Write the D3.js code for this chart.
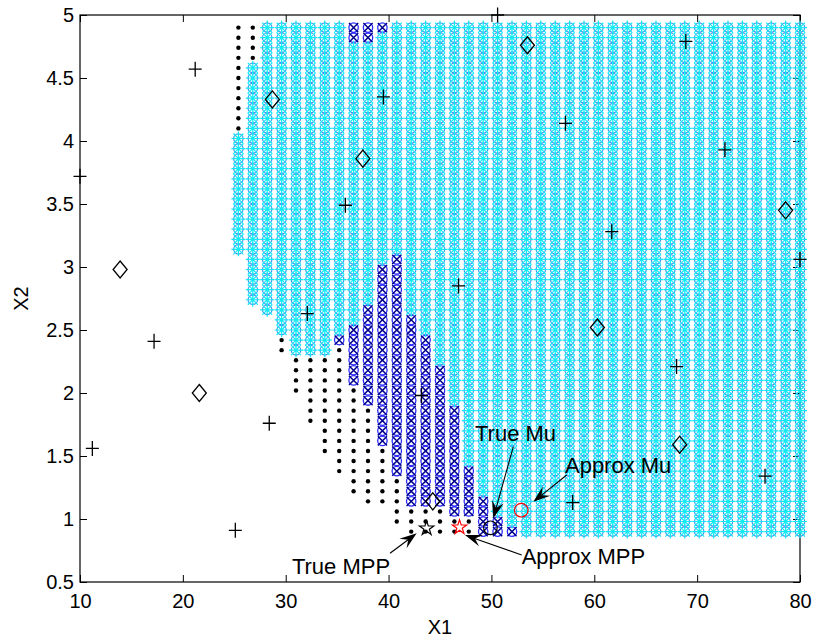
<!DOCTYPE html>
<html>
<head>
<meta charset="utf-8">
<script src="https://cdn.jsdelivr.net/npm/d3@7"></script>
<style>
  body { margin: 0; background: #fff; }
  svg { display: block; }
  text { font-family: "Liberation Sans", Arial, sans-serif; fill: #000; }
</style>
</head>
<body>
<svg id="chart" width="814" height="641"></svg>
<script>
// Sampling grid (X1 columns, X2 rows)
const gridX1 = [25.4, 26.8, 28.2, 29.6, 31.0, 32.4, 33.8, 35.2, 36.6, 38.0,
                39.4, 40.8, 42.2, 43.6, 45.0, 46.4, 47.8, 49.2, 50.6, 52.0,
                53.4, 54.8, 56.2, 57.6, 59.0, 60.4, 61.8, 63.2, 64.6, 66.0,
                67.4, 68.8, 70.2, 71.6, 73.0, 74.4, 75.8, 77.2, 78.6, 80.0];
const gridX2 = [0.90, 0.98, 1.06, 1.14, 1.22, 1.30, 1.38, 1.46, 1.54, 1.62,
                1.70, 1.78, 1.86, 1.94, 2.02, 2.10, 2.18, 2.26, 2.34, 2.42,
                2.50, 2.58, 2.66, 2.74, 2.82, 2.90, 2.98, 3.06, 3.14, 3.22,
                3.30, 3.38, 3.46, 3.54, 3.62, 3.70, 3.78, 3.86, 3.94, 4.02,
                4.10, 4.18, 4.26, 4.34, 4.42, 4.50, 4.58, 4.66, 4.74, 4.82, 4.90];

// Per-column class boundaries (X2 values), one entry per gridX1 column
// lowest grid row that carries any marker
const lowestX2 = [3.14, 2.74, 2.66, 2.34, 2.02, 1.78, 1.54, 1.38, 1.22, 1.14,
                  1.14, 0.98, 0.90, 0.90, 0.90, 0.90, 0.90, 0.90, 0.90, 0.90,
                  0.90, 0.90, 0.90, 0.90, 0.90, 0.90, 0.90, 0.90, 0.90, 0.90,
                  0.90, 0.90, 0.90, 0.90, 0.90, 0.90, 0.90, 0.90, 0.90, 0.90];
// top of the lower band of black dots
const dotTopX2 = [null, null, null, 2.42, 2.26, 2.26, 2.26, 2.34, 2.02, 1.86,
                  1.54, 1.30, 1.06, 1.06, 1.06, 0.98, 0.98, null, null, null,
                  null, null, null, null, null, null, null, null, null, null,
                  null, null, null, null, null, null, null, null, null, null];
// top of the dark-blue cross band
const crossTopX2 = [null, null, null, null, null, null, null, 2.42, 2.50, 2.66,
                    2.98, 3.06, 2.58, 2.42, 2.18, 1.86, 1.38, 1.14, 0.98, 0.90,
                    null, null, null, null, null, null, null, null, null, null,
                    null, null, null, null, null, null, null, null, null, null];
// upper dots / upper crosses: start X2 of the band reaching the top row
const upperDotFromX2 = [4.10, 4.66, null, null, null, null, null, null, null, null,
                        null, null, null, null, null, null, null, null, null, null,
                        null, null, null, null, null, null, null, null, null, null,
                        null, null, null, null, null, null, null, null, null, null];
const upperCrossFromX2 = [null, null, null, null, null, null, null, null, 4.82, 4.82,
                          4.90, null, null, null, null, null, null, null, null, null,
                          null, null, null, null, null, null, null, null, null, null,
                          null, null, null, null, null, null, null, null, null, null];

// Sample points
const plusX1 = [50.6, 21.2, 39.5, 57.2, 68.9, 72.7, 35.8, 10.0, 61.7, 80.0,
                32.1, 46.8, 17.2, 43.2, 28.4, 68.0, 11.2, 25.1, 57.9, 76.6];
const plusX2 = [5.00, 4.57, 4.35, 4.14, 4.79, 3.93, 3.49, 3.72, 3.28, 3.06,
                2.63, 2.85, 2.41, 1.98, 1.76, 2.21, 1.56, 0.91, 1.13, 1.34];
const diamondX1 = [53.5, 28.7, 37.5, 13.9, 78.6, 60.3, 21.6, 68.3, 44.3];
const diamondX2 = [4.76, 4.33, 3.86, 2.98, 3.45, 2.52, 2.00, 1.59, 1.14];

// Design points
const trueMPP = [43.7, 0.926];
const approxMPP = [46.9, 0.934];
const trueMu = [49.9, 0.93];
const approxMu = [52.9, 1.07];

// Annotations: label, text anchor (X1, X2), arrow tail and head (X1, X2)
const noteLabels = ["True Mu", "Approx Mu", "True MPP", "Approx MPP"];
const noteTextAt = [[48.4, 1.619], [57.15, 1.365], [30.6, 0.56], [52.94, 0.639]];
const noteTail = [[52.13, 1.574], [57.32, 1.349], [40.14, 0.728], [52.94, 0.714]];
const noteHead = [[50.18, 1.006], [54.07, 1.137], [42.73, 0.886], [47.43, 0.873]];

const xTicks = [10, 20, 30, 40, 50, 60, 70, 80];
const yTicks = [0.5, 1, 1.5, 2, 2.5, 3, 3.5, 4, 4.5, 5];

const svg = d3.select("#chart");
const x = d3.scaleLinear().domain([10, 80]).range([80, 800]);
const y = d3.scaleLinear().domain([0.5, 5]).range([582, 15]);

// ---- axes (drawn beneath the data, ticks on all four sides) ----
const axes = svg.append("g");
axes.append("rect").attr("x", x(10)).attr("y", y(5))
  .attr("width", x(80) - x(10)).attr("height", y(0.5) - y(5))
  .attr("fill", "none").attr("stroke", "#000").attr("stroke-width", 1.2);

function styleAxis(g) {
  g.select(".domain").remove();
  g.selectAll(".tick line").attr("stroke", "#000");
  g.selectAll(".tick text").style("font-size", "20px").attr("fill", "#000");
}
axes.append("g").attr("transform", `translate(0,${y(0.5)})`)
  .call(d3.axisBottom(x).tickValues(xTicks).tickSizeInner(-7).tickSizeOuter(0).tickPadding(12)
        .tickFormat(d3.format("d")))
  .call(styleAxis);
axes.append("g").attr("transform", `translate(0,${y(5)})`)
  .call(d3.axisTop(x).tickValues(xTicks).tickSizeInner(-7).tickSizeOuter(0).tickFormat(""))
  .call(styleAxis);
axes.append("g").attr("transform", `translate(${x(10)},0)`)
  .call(d3.axisLeft(y).tickValues(yTicks).tickSizeInner(-7).tickSizeOuter(0).tickPadding(6)
        .tickFormat(d => String(d)))
  .call(styleAxis);
axes.append("g").attr("transform", `translate(${x(80)},0)`)
  .call(d3.axisRight(y).tickValues(yTicks).tickSizeInner(-7).tickSizeOuter(0).tickFormat(""))
  .call(styleAxis);

svg.append("text").attr("x", (x(10) + x(80)) / 2).attr("y", 634)
  .attr("text-anchor", "middle").style("font-size", "20px").text("X1");
svg.append("text")
  .attr("transform", `translate(28,${(y(0.5) + y(5)) / 2}) rotate(-90)`)
  .attr("text-anchor", "middle").style("font-size", "20px").text("X2");

// ---- classify grid points ----
const eps = 1e-6;
function classOf(c, v) {
  if (upperDotFromX2[c] !== null && v >= upperDotFromX2[c] - eps) return "dot";
  if (upperCrossFromX2[c] !== null && v >= upperCrossFromX2[c] - eps) return "cross";
  if (v < lowestX2[c] - eps) return null;
  if (dotTopX2[c] !== null && v <= dotTopX2[c] + eps) return "dot";
  if (crossTopX2[c] !== null && v <= crossTopX2[c] + eps) return "cross";
  return "star";
}
const pts = [];
gridX1.forEach((gx, c) => {
  gridX2.forEach(gy => {
    const k = classOf(c, gy);
    if (k) pts.push({ x1: gx, x2: gy, k });
  });
});

// marker shapes
const asterisk = "M-7,0H7M0,-7V7M-5,-5L5,5M-5,5L5,-5";
const cross = "M-4.6,-4.6L4.6,4.6M-4.6,4.6L4.6,-4.6";
const plus = "M-6.5,0H6.5M0,-7.5V7.5";
const diamond = "M0,-8.5L7,0L0,8.5L-7,0Z";
function pentagram(R) {
  const r = R * 0.382;
  const p = [];
  for (let i = 0; i < 10; i++) {
    const a = -Math.PI / 2 + i * Math.PI / 5;
    const rr = i % 2 === 0 ? R : r;
    p.push([rr * Math.cos(a), rr * Math.sin(a)]);
  }
  return "M" + p.map(q => q[0].toFixed(2) + "," + q[1].toFixed(2)).join("L") + "Z";
}

const data = svg.append("g");
// black dots
data.append("g").selectAll("circle")
  .data(pts.filter(d => d.k === "dot")).join("circle")
  .attr("cx", d => x(d.x1)).attr("cy", d => y(d.x2)).attr("r", 2.2).attr("fill", "#000");

// dark-blue crosses with blue rings
const crossPts = pts.filter(d => d.k === "cross");
data.append("g").selectAll("circle")
  .data(crossPts).join("circle")
  .attr("cx", d => x(d.x1)).attr("cy", d => y(d.x2)).attr("r", 4.7)
  .attr("fill", "none").attr("stroke", "#2a2aff").attr("stroke-width", 1.3);
data.append("g").selectAll("path")
  .data(crossPts).join("path")
  .attr("transform", d => `translate(${x(d.x1)},${y(d.x2)})`)
  .attr("d", cross).attr("fill", "none").attr("stroke", "#00008c").attr("stroke-width", 1.5);

// cyan asterisks with light-blue rings
const starPts = pts.filter(d => d.k === "star");
data.append("g").selectAll("circle")
  .data(starPts).join("circle")
  .attr("cx", d => x(d.x1)).attr("cy", d => y(d.x2)).attr("r", 4.7)
  .attr("fill", "none").attr("stroke", "#3a98ee").attr("stroke-width", 1.2);
data.append("g").selectAll("path")
  .data(starPts).join("path")
  .attr("transform", d => `translate(${x(d.x1)},${y(d.x2)})`)
  .attr("d", asterisk).attr("fill", "none").attr("stroke", "#12eaf6").attr("stroke-width", 1.2);

// sample points
const samples = svg.append("g");
samples.selectAll(".plus").data(plusX1.map((v, i) => [v, plusX2[i]])).join("path")
  .attr("class", "plus")
  .attr("transform", d => `translate(${x(d[0])},${y(d[1])})`)
  .attr("d", plus).attr("fill", "none").attr("stroke", "#000").attr("stroke-width", 1.3);
samples.selectAll(".diamond").data(diamondX1.map((v, i) => [v, diamondX2[i]])).join("path")
  .attr("class", "diamond")
  .attr("transform", d => `translate(${x(d[0])},${y(d[1])})`)
  .attr("d", diamond).attr("fill", "none").attr("stroke", "#000").attr("stroke-width", 1.3);

// MPPs and means
const key = svg.append("g");
key.append("path").attr("transform", `translate(${x(trueMPP[0])},${y(trueMPP[1])})`)
  .attr("d", pentagram(7.5)).attr("fill", "none").attr("stroke", "#000").attr("stroke-width", 1.2);
key.append("path").attr("transform", `translate(${x(approxMPP[0])},${y(approxMPP[1])})`)
  .attr("d", pentagram(7.5)).attr("fill", "none").attr("stroke", "#ff0000").attr("stroke-width", 1.2);
key.append("circle").attr("cx", x(trueMu[0])).attr("cy", y(trueMu[1])).attr("r", 6.8)
  .attr("fill", "none").attr("stroke", "#000").attr("stroke-width", 1.2);
key.append("circle").attr("cx", x(approxMu[0])).attr("cy", y(approxMu[1])).attr("r", 6.8)
  .attr("fill", "none").attr("stroke", "#ff0000").attr("stroke-width", 1.2);

// annotation arrows and labels
const notes = svg.append("g");
noteLabels.forEach((lab, i) => {
  const tx = x(noteTail[i][0]), ty = y(noteTail[i][1]);
  const hx = x(noteHead[i][0]), hy = y(noteHead[i][1]);
  const ang = Math.atan2(hy - ty, hx - tx) * 180 / Math.PI;
  const L = 17, W = 12;
  const len = Math.hypot(hx - tx, hy - ty);
  notes.append("line")
    .attr("x1", tx).attr("y1", ty)
    .attr("x2", tx + (hx - tx) * (len - L * 0.6) / len)
    .attr("y2", ty + (hy - ty) * (len - L * 0.6) / len)
    .attr("stroke", "#000").attr("stroke-width", 1.1);
  notes.append("path")
    .attr("transform", `translate(${hx},${hy}) rotate(${ang})`)
    .attr("d", `M0,0L${-L},${W / 2}L${-L * 0.62},0L${-L},${-W / 2}Z`)
    .attr("fill", "#000");
  notes.append("text")
    .attr("x", x(noteTextAt[i][0])).attr("y", y(noteTextAt[i][1]))
    .style("font-size", "22px").text(lab);
});
</script>
</body>
</html>
